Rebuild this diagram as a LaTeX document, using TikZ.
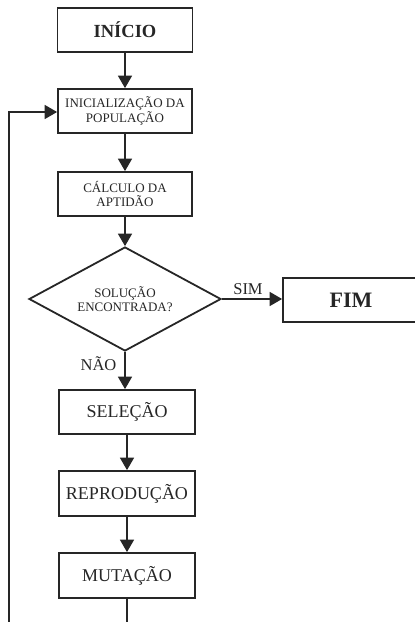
\documentclass[tikz,border=0pt]{standalone}
\usepackage{fontspec}
\setmainfont{Liberation Serif}
\usetikzlibrary{shapes.geometric,arrows.meta}
\begin{document}
\begin{tikzpicture}[x=1pt,y=-1pt,
  ink/.style={draw=black!85, line width=1.8pt},
  box/.style={ink, rectangle, minimum width=135pt, minimum height=44pt, inner sep=0pt, align=center, text=black!85},
  small/.style={font=\fontsize{13}{14.5}\selectfont},
  big/.style={font=\fontsize{18}{20}\selectfont},
  conn/.style={ink, -{Triangle[width=14pt,length=12.5pt]}},
  lbl/.style={text=black!85, inner sep=0pt, font=\fontsize{16.5}{18}\selectfont}
]
\useasboundingbox (0,0) rectangle (415,622);
\clip (0,0) rectangle (415,622);

\node[box, font=\fontsize{18.5}{20}\selectfont\bfseries] (inicio) at (125,30) {INÍCIO};
\node[box, small, minimum width=134pt] (inic) at (125,111) {INICIALIZAÇÃO DA\\POPULAÇÃO};
\node[box, small, minimum width=134pt] (calc) at (125,194) {CÁLCULO DA\\APTIDÃO};
\node[ink, diamond, aspect=1.85, minimum width=192pt, minimum height=104pt, inner sep=0pt, align=center, text=black!85, small] (dec) at (125,299) {SOLUÇÃO\\ENCONTRADA?};
\node[box, minimum width=136pt, font=\fontsize{22}{24}\selectfont\bfseries] (fim) at (351,300) {FIM};
\node[box, big, minimum width=136pt] (sel) at (127,412) {SELEÇÃO};
\node[box, big, minimum width=136pt, minimum height=45pt] (rep) at (127,493.5) {REPRODUÇÃO};
\node[box, big, minimum width=136pt, minimum height=45pt] (mut) at (127,575.5) {MUTAÇÃO};

\node[lbl] (sim) at (248,289) {SIM};
\node[lbl] (nao) at (98.5,364) {NÃO};

\draw[conn] (inicio) -- (inic);
\draw[conn] (inic) -- (calc);
\draw[conn] (calc) -- (dec);
\draw[conn] (dec.east) -- (dec.east -| fim.west);
\draw[conn] (dec.south) -- (dec.south |- sel.north);
\draw[conn] (sel) -- (rep);
\draw[conn] (rep) -- (mut);

\coordinate (lb) at (9,660);
\coordinate (lt) at (9,112);
\draw[conn] (mut.south) |- (lb) -- (lt) -- (lt -| inic.west);
\end{tikzpicture}
\end{document}
